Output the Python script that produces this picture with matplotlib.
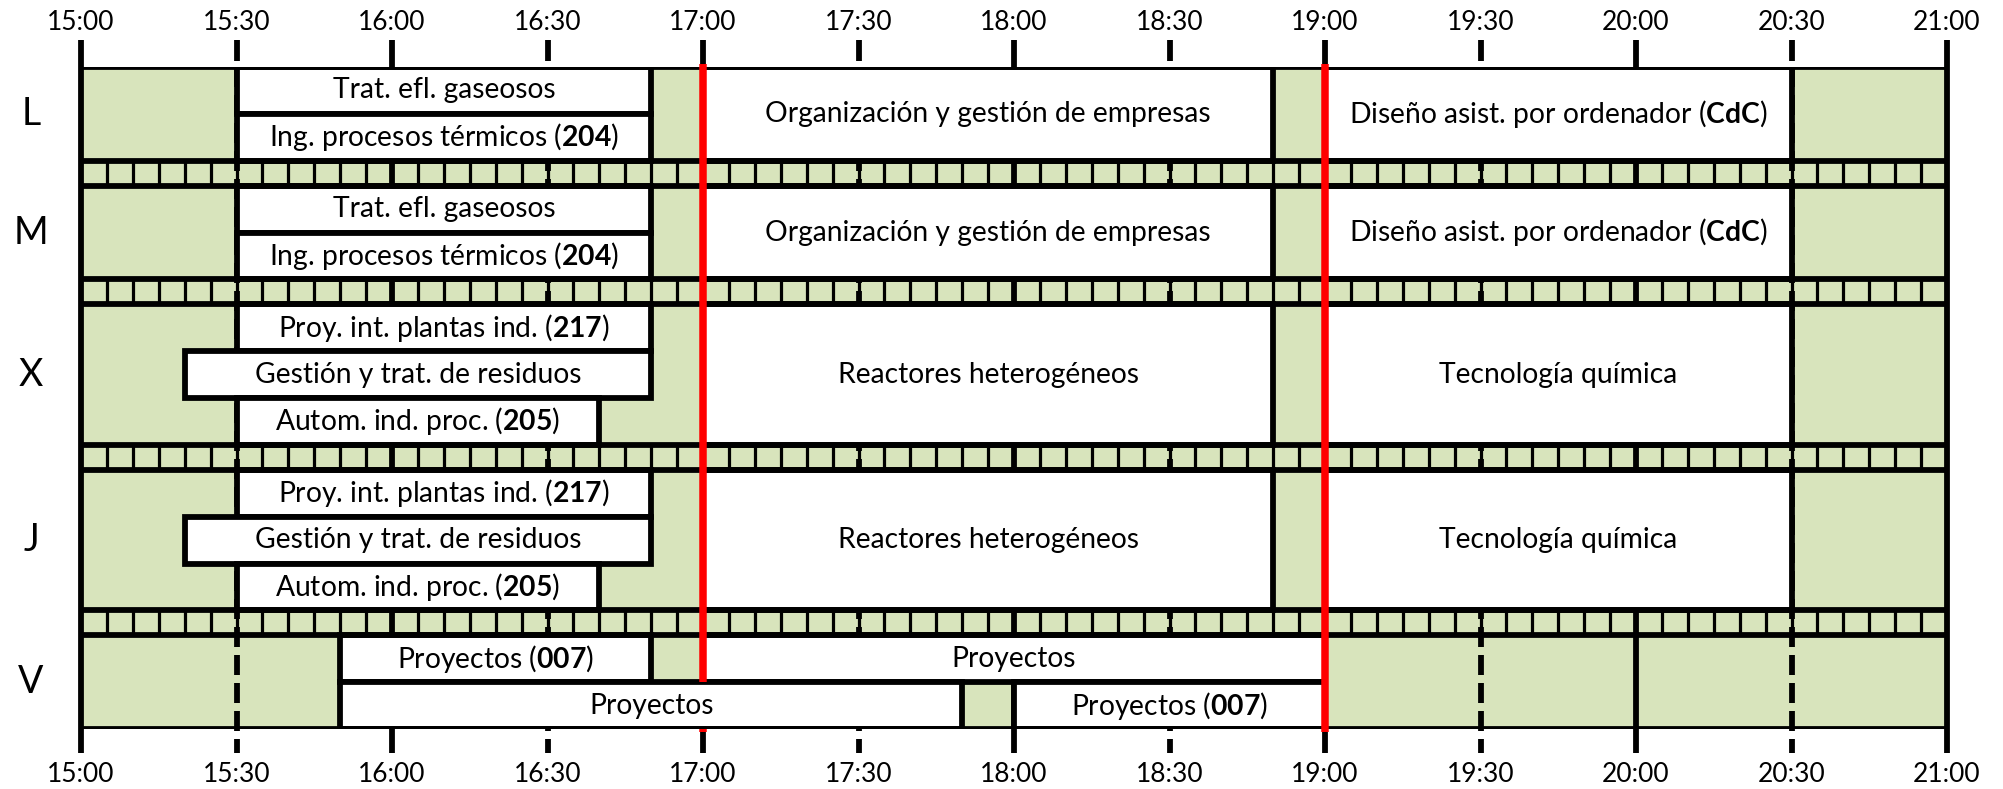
import matplotlib
matplotlib.use("Agg")
import matplotlib.pyplot as plt
from matplotlib.patches import Rectangle

plt.rcParams['font.family'] = ['Lato', 'DejaVu Sans']
plt.rcParams['mathtext.fontset'] = 'custom'
plt.rcParams['mathtext.rm'] = 'Lato'
plt.rcParams['mathtext.bf'] = 'Lato:bold'
plt.rcParams['lines.scale_dashes'] = False

# ---------------- data ----------------
days = ["L", "M", "X", "J", "V"]
slots_per_day = [2, 2, 3, 3, 2]
tick_labels = ["15:00", "15:30", "16:00", "16:30", "17:00", "17:30", "18:00",
               "18:30", "19:00", "19:30", "20:00", "20:30", "21:00"]
red_marks = ["17:00", "19:00"]

# (start, end, first slot, number of slots, label)
L_classes = [
    ("15:30", "16:50", 0, 1, "Trat. efl. gaseosos"),
    ("15:30", "16:50", 1, 1, r"Ing. procesos térmicos ($\mathbf{204}$)"),
    ("17:00", "18:50", 0, 2, "Organización y gestión de empresas"),
    ("19:00", "20:30", 0, 2, r"Diseño asist. por ordenador ($\mathbf{CdC}$)"),
]
M_classes = [
    ("15:30", "16:50", 0, 1, "Trat. efl. gaseosos"),
    ("15:30", "16:50", 1, 1, r"Ing. procesos térmicos ($\mathbf{204}$)"),
    ("17:00", "18:50", 0, 2, "Organización y gestión de empresas"),
    ("19:00", "20:30", 0, 2, r"Diseño asist. por ordenador ($\mathbf{CdC}$)"),
]
X_classes = [
    ("15:30", "16:50", 0, 1, r"Proy. int. plantas ind. ($\mathbf{217}$)"),
    ("15:20", "16:50", 1, 1, "Gestión y trat. de residuos"),
    ("15:30", "16:40", 2, 1, r"Autom. ind. proc. ($\mathbf{205}$)"),
    ("17:00", "18:50", 0, 3, "Reactores heterogéneos"),
    ("19:00", "20:30", 0, 3, "Tecnología química"),
]
J_classes = [
    ("15:30", "16:50", 0, 1, r"Proy. int. plantas ind. ($\mathbf{217}$)"),
    ("15:20", "16:50", 1, 1, "Gestión y trat. de residuos"),
    ("15:30", "16:40", 2, 1, r"Autom. ind. proc. ($\mathbf{205}$)"),
    ("17:00", "18:50", 0, 3, "Reactores heterogéneos"),
    ("19:00", "20:30", 0, 3, "Tecnología química"),
]
V_classes = [
    ("15:50", "16:50", 0, 1, r"Proyectos ($\mathbf{007}$)"),
    ("17:00", "19:00", 0, 1, "Proyectos"),
    ("15:50", "17:50", 1, 1, "Proyectos"),
    ("18:00", "19:00", 1, 1, r"Proyectos ($\mathbf{007}$)"),
]
classes_by_day = [L_classes, M_classes, X_classes, J_classes, V_classes]

# ---------------- style / layout ----------------
GREEN = "#D8E4BC"
W, H, DPI = 2003, 789, 100
PT = 72 / DPI            # points per pixel
LEFT, RIGHT, TOP, BOTTOM = 81, 1947, 67, 729   # chart frame in pixels
STRIP = 0.535            # strip height in slot units
BOX_FS = 20.3
TICK_FS = 19
DAY_FS = 27


def to_min(s):
    h, m = s.split(":")
    return (int(h) - 15) * 60 + int(m)


t0 = to_min(tick_labels[0])
t1 = to_min(tick_labels[-1])

fig = plt.figure(figsize=(W / DPI, H / DPI), dpi=DPI)
ax = fig.add_axes([LEFT / W, (H - BOTTOM) / H, (RIGHT - LEFT) / W, (BOTTOM - TOP) / H])
ax.set_axis_off()

# vertical layout
row_tops, strips = [], []
y = 0.0
for i, n in enumerate(slots_per_day):
    row_tops.append(y)
    y += n
    if i < len(slots_per_day) - 1:
        strips.append((y, y + STRIP))
        y += STRIP
total = y
ppu = (BOTTOM - TOP) / total    # pixels per unit

ax.set_xlim(t0, t1)
ax.set_ylim(total, 0)

# background
ax.add_patch(Rectangle((t0, 0), t1 - t0, total, facecolor=GREEN, edgecolor="none", zorder=0))

# 5-minute lines in strips
five = list(range(t0, t1 + 1, 5))
for s0, s1 in strips:
    ax.vlines(five, s0, s1, colors="black", lw=3.2 * PT, zorder=2)

# hour / half-hour lines and ticks
y_tick_top = -(TOP - 40) / ppu
y_half_top_end = -(TOP - 61) / ppu
y_tick_bot = total + (753 - BOTTOM) / ppu
for lab in tick_labels:
    m = to_min(lab)
    if m % 60 == 0:
        ax.plot([m, m], [y_tick_top, y_tick_bot], color="black", lw=5.8 * PT,
                solid_capstyle="butt", zorder=3, clip_on=False)
    else:
        ax.plot([m, m], [y_tick_top, y_half_top_end], color="black", lw=5.8 * PT,
                solid_capstyle="butt", zorder=3, clip_on=False)
        ax.plot([m, m], [0, y_tick_bot], color="black", lw=5.8 * PT,
                dashes=(20 * PT, 8 * PT), dash_capstyle="butt", zorder=3, clip_on=False)
    ax.text(m, -(TOP - 22) / ppu, lab, ha="center", va="center", fontsize=TICK_FS)
    ax.text(m, total + (774 - BOTTOM) / ppu, lab, ha="center", va="center", fontsize=TICK_FS)

# class boxes (drawn above the red marks; the red marks only show where no box spans them)
box_spans = []
for top, cls in zip(row_tops, classes_by_day):
    for start, end, s, n, label in cls:
        a, b = to_min(start), to_min(end)
        box_spans.append((a, b, top + s, top + s + n))
        ax.add_patch(Rectangle((a, top + s), b - a, n, facecolor="white",
                               edgecolor="black", lw=5.8 * PT, joinstyle="miter", zorder=4))
        ax.text((a + b) / 2, top + s + n / 2, label, ha="center", va="center",
                fontsize=BOX_FS, zorder=7)

# horizontal frame lines
h_lines = [0.0]
for (s0, s1) in strips:
    h_lines += [s0, s1]
h_lines.append(total)
ax.hlines(h_lines, t0, t1, colors="black", lw=5.8 * PT, zorder=5)

# red marks, interrupted where a class box crosses them
for r in red_marks:
    t = to_min(r)
    blocked = sorted((y0, y1) for a, b, y0, y1 in box_spans if a < t < b)
    segs, cur = [], -3 / ppu
    for y0, y1 in blocked:
        if y0 > cur:
            segs.append((cur, y0))
        cur = max(cur, y1)
    end = total + 3 / ppu
    if end > cur:
        segs.append((cur, end))
    for ya, yb in segs:
        ax.plot([t, t], [ya, yb], color="#FF0000", lw=7.5 * PT, solid_capstyle="butt",
                zorder=6, clip_on=False)

# day labels
x_day = t0 - (LEFT - 31) / (RIGHT - LEFT) * (t1 - t0)
for d, top, n in zip(days, row_tops, slots_per_day):
    ax.text(x_day, top + n / 2, d, ha="center", va="center", fontsize=DAY_FS, clip_on=False)

fig.savefig("out.png", dpi=DPI)
